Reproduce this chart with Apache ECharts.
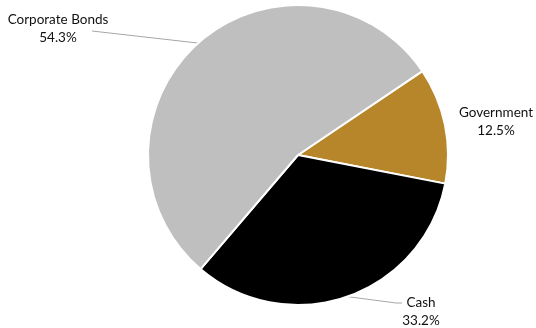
<!DOCTYPE html>
<html>
<head>
<meta charset="utf-8">
<script src="https://cdn.jsdelivr.net/npm/echarts@6/dist/echarts.min.js"></script>
<style>
  html, body { margin: 0; padding: 0; background: #fff; }
  #chart { width: 536px; height: 328px; }
</style>
</head>
<body>
<div id="chart"></div>
<script>
// slice order clockwise, starting at the Government wedge
const categories = ["Government", "Cash", "Corporate Bonds"];
const shares = [12.5, 33.2, 54.3];
const colors = ["#b8862a", "#000000", "#bfbfbf"];

// where each label sits (centre of the text block) and where its leader ends
const labelPos = [[496, 122], [421, 312], [58, 29]];
const leaderEnd = [null, [[396, 303], [402, 303]], [[92, 31], [92, 31]]];

const chart = echarts.init(document.getElementById("chart"));

chart.setOption({
  animation: false,
  textStyle: { fontFamily: "Lato, 'Open Sans', sans-serif" },
  series: [
    {
      type: "pie",
      center: [298, 155],
      radius: 150,
      startAngle: 34,
      clockwise: true,
      avoidLabelOverlap: false,
      itemStyle: { borderColor: "#fff", borderWidth: 2 },
      label: {
        show: true,
        position: "outside",
        formatter: (p) => p.name + "\n" + p.value.toFixed(1) + "%",
        color: "#111",
        fontSize: 13.5,
        lineHeight: 18,
        align: "center",
      },
      labelLine: {
        show: true,
        lineStyle: { color: "#a6a6a6", width: 1 },
      },
      labelLayout: (params) => {
        const i = params.dataIndex;
        const [x, y] = labelPos[i];
        const out = { x, y, align: "center", verticalAlign: "middle" };
        if (leaderEnd[i] && params.labelLinePoints) {
          const start = params.labelLinePoints[0];
          out.labelLinePoints = [start, leaderEnd[i][0], leaderEnd[i][1]];
        }
        return out;
      },
      data: categories.map((name, i) => ({
        name,
        value: shares[i],
        itemStyle: { color: colors[i] },
        labelLine: { show: leaderEnd[i] !== null },
      })),
    },
  ],
});

window.addEventListener("resize", () => chart.resize());
</script>
</body>
</html>
